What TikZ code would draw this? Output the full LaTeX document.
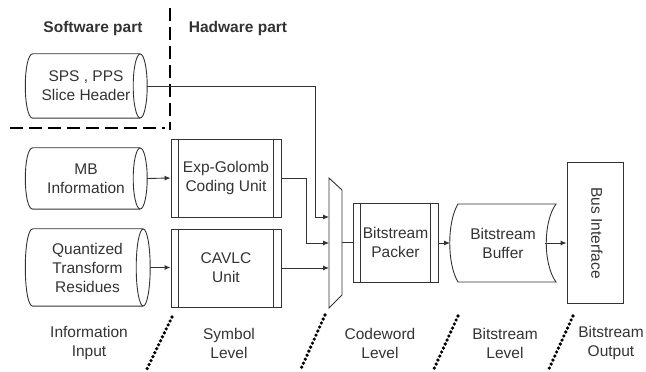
\documentclass[tikz,border=0pt]{standalone}
\usepackage{fontspec}
\setmainfont{Liberation Sans}
\usetikzlibrary{arrows.meta,calc}
\tikzset{
  ln/.style={draw=black!80, line width=0.9pt},
  arr/.style={ln, -{Latex[length=6pt,width=5pt]}},
  txt/.style={font=\fontsize{15.5}{19}\selectfont, text=black!80, align=center, inner sep=0pt},
  hdr/.style={txt, font=\fontsize{15.5}{19}\selectfont\bfseries},
  shapebox/.style={txt, minimum width=#1},
  boxed/.style={txt, ln, minimum width=#1},
  sepdash/.style={draw=black, line width=2.6pt, dash pattern=on 13pt off 6pt},
  levdot/.style={draw=black, line width=3.6pt, line cap=round, dash pattern=on 0pt off 4.4pt},
}
\newcommand\procbars[1]{%
  \draw[ln] ([xshift=8pt]#1.north west) -- ([xshift=8pt]#1.south west);
  \draw[ln] ([xshift=-8pt]#1.north east) -- ([xshift=-8pt]#1.south east);}
\newcommand\cylshape[2]{%
  \draw[ln] ([xshift=-7pt]#1.north east) -- ([xshift=8pt]#1.north west)
    .. controls ([xshift=-2pt]#1.north west) and ([xshift=-2pt]#1.south west) ..
    ([xshift=8pt]#1.south west) -- ([xshift=-7pt]#1.south east);
  \draw[ln] ([xshift=-7pt]#1.east) ellipse [x radius=7pt, y radius=#2pt];}
\begin{document}
\begin{tikzpicture}[x=1pt,y=1pt]
\useasboundingbox (0,0) rectangle (646,372);

% headers
\node[hdr] (sw) at (93,344) {Software part};
\node[hdr] (hw) at (238,344) {Hadware part};

% separators
\coordinate (v1) at (170,364);
\coordinate (v2) at (170,242);
\coordinate (h1) at (10,244);
\coordinate (h2) at (165,244);
\draw[sepdash] (v1) -- (v2);
\draw[sepdash] (h1) -- (h2);

% cylinders
\node[shapebox=122pt, minimum height=64pt] (sps) at (86,286) {SPS , PPS\\Slice Header};
\cylshape{sps}{32}
\node[shapebox=122pt, minimum height=61pt] (mb) at (86,193.5) {MB\\Information};
\cylshape{mb}{30.5}
\node[shapebox=125pt, minimum height=77pt] (qt) at (87.5,104.5) {Quantized\\Transform\\Residues};
\cylshape{qt}{38.5}

% symbol level units
\node[boxed=110pt, minimum height=78pt] (exp) at (226,194) {Exp-Golomb\\Coding Unit};
\procbars{exp}
\node[boxed=110pt, minimum height=78pt] (cav) at (226,104) {CAVLC\\Unit};
\procbars{cav}

\draw[arr] (mb.east) -- (exp.west);
\draw[arr] (qt.east) -- (qt.east -| cav.west);

% mux
\node[shapebox=13pt, minimum height=130pt] (mux) at (335.5,129) {};
\draw[ln] (329,194) -- (342,182) -- (342,77) -- (329,64) -- cycle;
\coordinate (m1) at (329,155);
\coordinate (m2) at (329,129);
\coordinate (m3) at (329,104);

\draw[arr] (sps.east) -- (315,286) -- (315,155) -- (m1);
\draw[arr] (exp.east) -- (306,194) -- (306,129) -- (m2);
\draw[arr] (cav.east) -- (m3);

% packer
\node[boxed=85pt, minimum height=79pt] (pk) at (395.5,129.5) {Bitstream\\Packer};
\procbars{pk}
\draw[ln] (mux.east |- pk.west) -- (pk.west);

% buffer
\node[txt] (buf) at (503,129) {Bitstream\\Buffer};
\draw[ln] (458,168) -- (556,168) .. controls (543,150) and (543,108) .. (556,90)
  -- (458,90) .. controls (447,108) and (447,150) .. (458,168) -- cycle;
\coordinate (bufin) at (450,129);
\coordinate (bufout) at (545,129);
\draw[arr] (pk.east |- bufin) -- (bufin);

% bus interface
\node[boxed=56pt, minimum height=141pt] (bus) at (595,139.5) {};
\node[txt, rotate=-90] (busT) at (597,139) {Bus Interface};
\draw[arr] (bufout) -- (bufout -| bus.west);

% level labels
\node[txt] (l1) at (89,29) {Information\\Input};
\node[txt] (l2) at (229,29) {Symbol\\Level};
\node[txt] (l3) at (380,29) {Codeword\\Level};
\node[txt] (l4) at (505,29) {Bitstream\\Level};
\node[txt] (l5) at (611,29) {Bitstream\\Output};

% level separators
\coordinate (d1a) at (172,55); \coordinate (d1b) at (146,1);
\coordinate (d2a) at (325,57); \coordinate (d2b) at (300,1);
\coordinate (d3a) at (458,56); \coordinate (d3b) at (433,1);
\coordinate (d4a) at (573,56); \coordinate (d4b) at (548,1);
\draw[levdot] (d1a) -- (d1b);
\draw[levdot] (d2a) -- (d2b);
\draw[levdot] (d3a) -- (d3b);
\draw[levdot] (d4a) -- (d4b);
\end{tikzpicture}
\end{document}
